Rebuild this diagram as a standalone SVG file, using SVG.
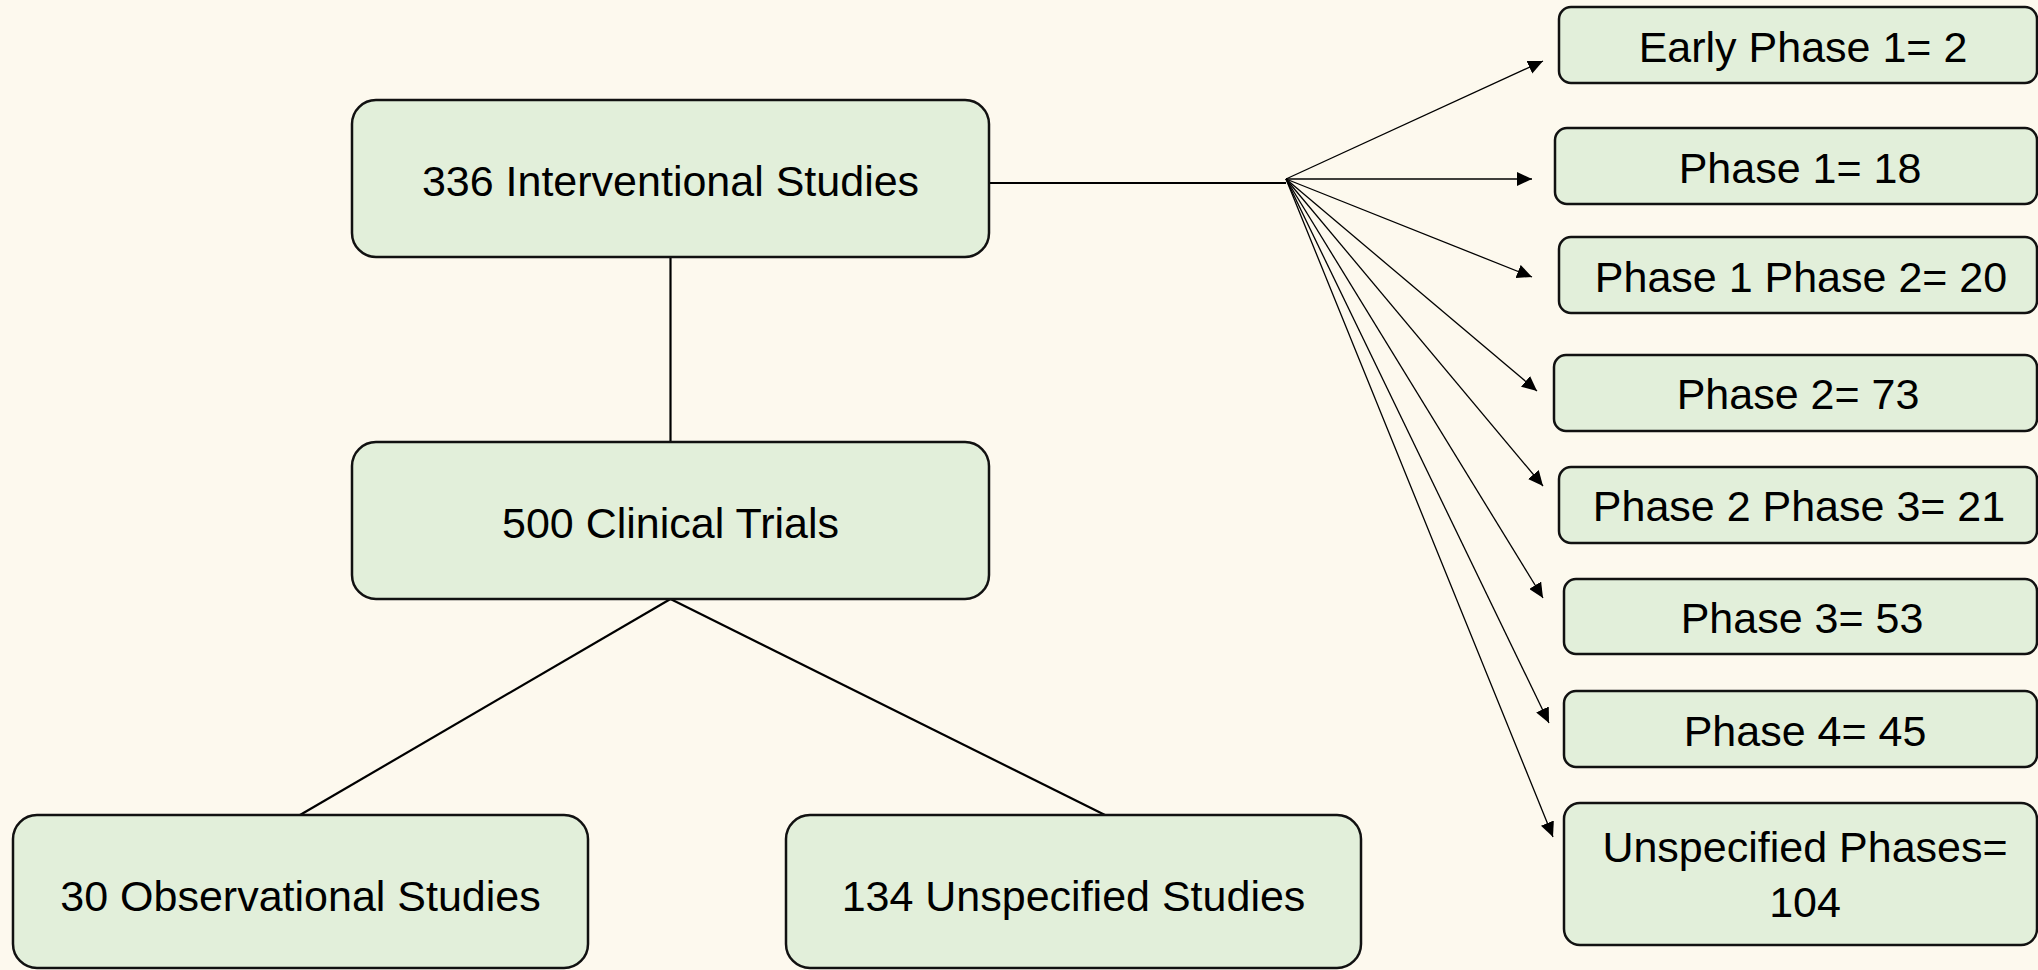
<svg xmlns="http://www.w3.org/2000/svg" width="2038" height="970" viewBox="0 0 2038 970">
  <defs>
    <style>
      .bg { fill: #fdf9ee; }
      .box { fill: #e2efda; stroke: #111; stroke-width: 2.5; }
      .lbl { font-family: "Liberation Sans", Arial, sans-serif; font-size: 43px; fill: #000; text-anchor: middle; }
      .link { stroke: #000; stroke-width: 2.2; fill: none; }
      .fan { stroke: #000; stroke-width: 1.3; fill: none; marker-end: url(#arrow); }
    </style>
    <marker id="arrow" markerUnits="userSpaceOnUse" markerWidth="16" markerHeight="14" refX="15" refY="7" orient="auto">
      <path d="M0,0 L15,7 L0,14 z" fill="#000"/>
    </marker>
  </defs>
  <rect class="bg" x="0" y="0" width="2038" height="970"/>

  <g id="connectors">
    <line class="link" x1="670.5" y1="257" x2="670.5" y2="442"/>
    <line class="link" x1="670.5" y1="599" x2="300" y2="815"/>
    <line class="link" x1="670.5" y1="599" x2="1105" y2="815"/>
    <line class="link" x1="989" y1="183" x2="1286" y2="183"/>
    <line class="fan" x1="1286" y1="179" x2="1543" y2="61"/>
    <line class="fan" x1="1286" y1="179" x2="1532" y2="179"/>
    <line class="fan" x1="1286" y1="179" x2="1532" y2="277"/>
    <line class="fan" x1="1286" y1="179" x2="1537" y2="391"/>
    <line class="fan" x1="1286" y1="179" x2="1543" y2="486"/>
    <line class="fan" x1="1286" y1="179" x2="1543" y2="598"/>
    <line class="fan" x1="1286" y1="179" x2="1549" y2="723"/>
    <line class="fan" x1="1286" y1="179" x2="1553" y2="837"/>
  </g>

  <g id="interventional">
    <rect class="box" x="352" y="100" width="637" height="157" rx="24"/>
    <text class="lbl" x="670.5" y="196">336 Interventional Studies</text>
  </g>
  <g id="clinical-trials">
    <rect class="box" x="352" y="442" width="637" height="157" rx="24"/>
    <text class="lbl" x="670.5" y="538">500 Clinical Trials</text>
  </g>
  <g id="observational">
    <rect class="box" x="13" y="815" width="575" height="153" rx="24"/>
    <text class="lbl" x="300.5" y="911">30 Observational Studies</text>
  </g>
  <g id="unspecified-studies">
    <rect class="box" x="786" y="815" width="575" height="153" rx="24"/>
    <text class="lbl" x="1073.5" y="911">134 Unspecified Studies</text>
  </g>

  <g id="early-phase-1">
    <rect class="box" x="1559" y="7" width="478" height="76" rx="12"/>
    <text class="lbl" x="1803" y="62">Early Phase 1= 2</text>
  </g>
  <g id="phase-1">
    <rect class="box" x="1555" y="128" width="482" height="76" rx="12"/>
    <text class="lbl" x="1800" y="183">Phase 1= 18</text>
  </g>
  <g id="phase-1-2">
    <rect class="box" x="1559" y="237" width="478" height="76" rx="12"/>
    <text class="lbl" x="1801" y="292">Phase 1 Phase 2= 20</text>
  </g>
  <g id="phase-2">
    <rect class="box" x="1554" y="355" width="483" height="76" rx="12"/>
    <text class="lbl" x="1798" y="409">Phase 2= 73</text>
  </g>
  <g id="phase-2-3">
    <rect class="box" x="1559" y="467" width="478" height="76" rx="12"/>
    <text class="lbl" x="1799" y="521">Phase 2 Phase 3= 21</text>
  </g>
  <g id="phase-3">
    <rect class="box" x="1564" y="579" width="473" height="75" rx="12"/>
    <text class="lbl" x="1802" y="633">Phase 3= 53</text>
  </g>
  <g id="phase-4">
    <rect class="box" x="1564" y="691" width="473" height="76" rx="12"/>
    <text class="lbl" x="1805" y="746">Phase 4= 45</text>
  </g>
  <g id="unspecified-phases">
    <rect class="box" x="1564" y="803" width="473" height="142" rx="16"/>
    <text class="lbl" x="1805" y="862">Unspecified Phases=</text>
    <text class="lbl" x="1805" y="917">104</text>
  </g>
</svg>
